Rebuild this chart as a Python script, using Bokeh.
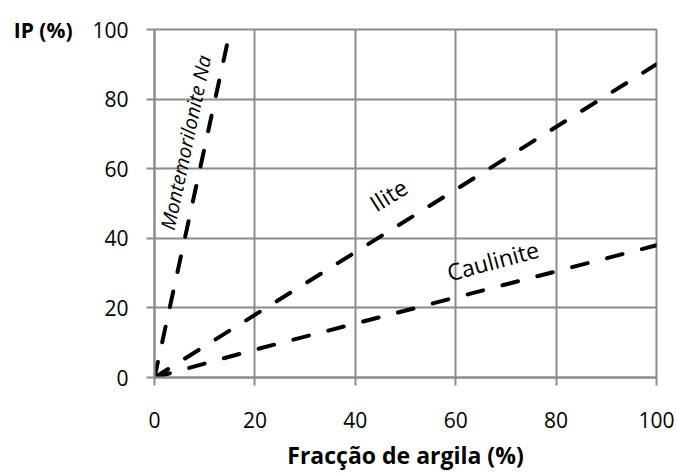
import math

from bokeh.embed import file_html
from bokeh.models import FixedTicker, Label, LinearAxis, Range1d
from bokeh.plotting import figure
from bokeh.resources import INLINE

# Axis ticks
x_ticks = [0, 20, 40, 60, 80, 100]
y_ticks = [0, 20, 40, 60, 80, 100]

# Plasticity index vs clay fraction for each clay mineral
mont_x = [0, 14.5]
mont_y = [0, 96]
ilite_x = [0, 100]
ilite_y = [0, 90]
caul_x = [0, 20, 100]
caul_y = [0, 8, 38]

# In-plot line labels
label_text = ["Montemorilonite Na", "Ilite", "Caulinite"]
label_x = [6.2, 46.6, 67.4]
label_y = [67.5, 52.5, 33.6]
label_angle = [78, 32, 15]
label_style = ["italic", "normal", "normal"]
label_size = ["20px", "23px", "23px"]

FONT = "Open Sans"
GRID = "#8c8c8c"

p = figure(
    width=676, height=473,
    x_range=Range1d(0, 100), y_range=Range1d(0, 100),
    output_backend="svg", toolbar_location=None,
    min_border_left=154, min_border_right=20,
    min_border_top=29, min_border_bottom=96,
)
p.background_fill_color = "white"
p.border_fill_color = "white"
p.outline_line_color = GRID
p.outline_line_width = 2

for ax in (p.xaxis[0], p.yaxis[0]):
    ax.axis_line_color = GRID
    ax.axis_line_width = 2
    ax.major_tick_line_color = GRID
    ax.major_tick_line_width = 2
    ax.major_tick_out = 8
    ax.major_tick_in = 0
    ax.minor_tick_line_color = None
    ax.major_label_text_font = FONT
    ax.major_label_text_font_size = "21px"
    ax.major_label_text_color = "black"

p.xaxis.ticker = FixedTicker(ticks=x_ticks)
p.yaxis.ticker = FixedTicker(ticks=y_ticks)
p.xaxis.major_label_standoff = 26
p.yaxis.major_label_standoff = 18

p.xaxis.axis_label = "Fracção de argila (%)"
p.xaxis.axis_label_text_font = FONT
p.xaxis.axis_label_text_font_style = "bold"
p.xaxis.axis_label_text_font_size = "23px"
p.xaxis.axis_label_text_color = "black"
p.xaxis.axis_label_standoff = 8

# Vertical-axis title, set horizontally beside the top tick label
ip_axis = LinearAxis(
    ticker=FixedTicker(ticks=[100]),
    major_label_overrides={100: "IP (%)"},
    axis_line_color=None,
    major_tick_line_color=None,
    minor_tick_line_color=None,
    major_tick_out=0, major_tick_in=0,
    major_label_standoff=17,
    major_label_text_font=FONT,
    major_label_text_font_style="bold",
    major_label_text_font_size="21px",
    major_label_text_color="black",
)
p.add_layout(ip_axis, "left")

p.xgrid.ticker = FixedTicker(ticks=x_ticks)
p.ygrid.ticker = FixedTicker(ticks=y_ticks)
p.grid.grid_line_color = GRID
p.grid.grid_line_width = 2

dash = dict(line_color="black", line_width=4, line_dash="16 20", line_cap="round")
p.line(mont_x, mont_y, **dash)
p.line(ilite_x, ilite_y, **dash)
p.line(caul_x, caul_y, **dash)

for t, lx, ly, ang, style, size in zip(label_text, label_x, label_y, label_angle, label_style, label_size):
    p.add_layout(Label(
        x=lx, y=ly, text=t, angle=math.radians(ang),
        text_align="center", text_baseline="middle",
        text_font=FONT, text_font_size=size, text_font_style=style,
        text_color="black",
    ))

open("out.html", "w").write(file_html(p, INLINE))
